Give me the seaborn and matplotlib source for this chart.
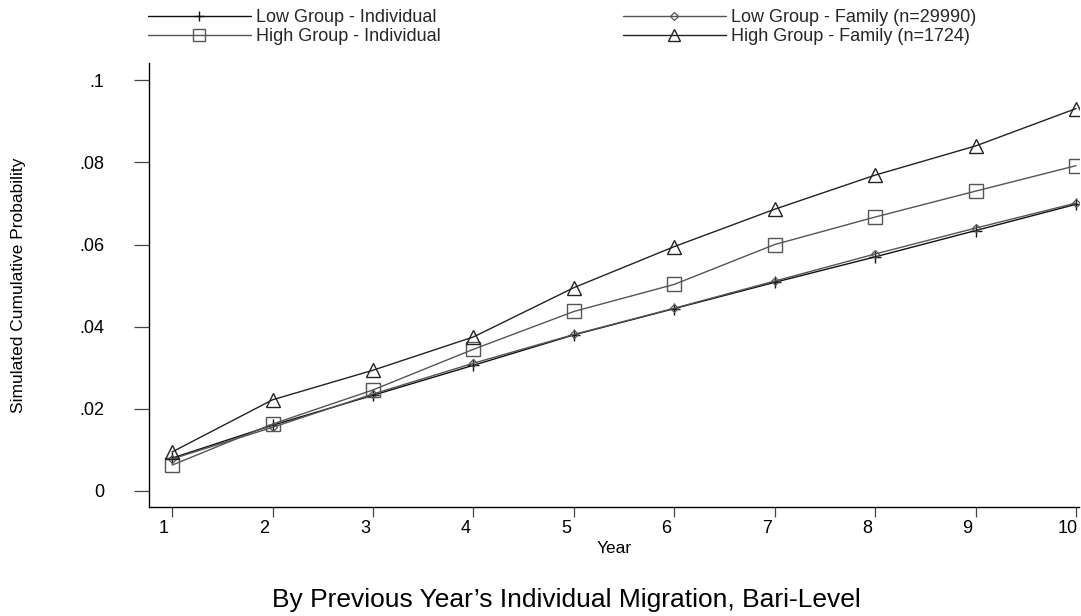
import numpy as np
import pandas as pd
import seaborn as sns
import matplotlib
matplotlib.use("Agg")
import matplotlib.pyplot as plt
import matplotlib.transforms as mtransforms
from matplotlib.ticker import FuncFormatter

years = [1, 2, 3, 4, 5, 6, 7, 8, 9, 10]
low_individual = [0.0080, 0.0160, 0.0233, 0.0306, 0.0380, 0.0444, 0.0508, 0.0570, 0.0634, 0.0698]
low_family = [0.0078, 0.0155, 0.0236, 0.0311, 0.0381, 0.0445, 0.0511, 0.0577, 0.0640, 0.0701]
high_individual = [0.0063, 0.0163, 0.0246, 0.0345, 0.0437, 0.0503, 0.0600, 0.0667, 0.0730, 0.0792]
high_family = [0.0095, 0.0222, 0.0294, 0.0375, 0.0495, 0.0595, 0.0686, 0.0769, 0.0840, 0.0931]
series_names = ["Low Group - Individual", "High Group - Individual",
                "Low Group - Family (n=29990)", "High Group - Family (n=1724)"]
yticks = [0, 0.02, 0.04, 0.06, 0.08, 0.1]

df = pd.DataFrame({
    "Year": years * 4,
    "value": low_individual + high_individual + low_family + high_family,
    "series": [s for s in series_names for _ in years],
})

sns.set_theme(style="white")
plt.rcParams["font.family"] = ["Liberation Sans", "DejaVu Sans"]

W, H = 1081, 616
fig = plt.figure(figsize=(W / 100, H / 100), dpi=100)
ax = fig.add_axes([149 / W, (H - 507) / H, (1079 - 149) / W, (507 - 63) / H])

styles = {
    "Low Group - Individual": dict(color="#111111", marker="+", ms=8, mew=1.0, lw=1.0),
    "High Group - Individual": dict(color="#555555", marker="s", ms=9.5, mew=1.0, lw=1.0),
    "Low Group - Family (n=29990)": dict(color="#555555", marker="D", ms=4.2, mew=0.9, lw=1.0),
    "High Group - Family (n=1724)": dict(color="#222222", marker="^", ms=10, mew=1.0, lw=1.0),
}

handles = {}
for name in series_names:
    st = styles[name]
    sub = df[df["series"] == name]
    sns.lineplot(data=sub, x="Year", y="value", ax=ax, color=st["color"], lw=st["lw"],
                 marker=st["marker"], markersize=st["ms"], markeredgewidth=st["mew"],
                 markerfacecolor="none", markeredgecolor=st["color"], legend=False)
    h, = ax.plot([], [], color=st["color"], lw=st["lw"], marker=st["marker"],
                 markersize=st["ms"] * 0.9, markeredgewidth=st["mew"],
                 markerfacecolor="none", markeredgecolor=st["color"])
    handles[name] = h

ax.set_xlim(0.77, 10.03)
ax.set_ylim(-0.0039, 0.1042)
ax.set_xticks(years)
ax.set_yticks(yticks)

def fmt(v, pos):
    if abs(v) < 1e-12:
        return "0"
    return ("%g" % v).replace("0.", ".", 1)

ax.yaxis.set_major_formatter(FuncFormatter(fmt))
for side in ["top", "right"]:
    ax.spines[side].set_visible(False)
for side in ["left", "bottom"]:
    ax.spines[side].set_color("black")
    ax.spines[side].set_linewidth(1.0)
ax.tick_params(axis="y", which="major", direction="out", length=11, width=0.9,
               color="#444444", labelsize=13, labelcolor="black", left=True, pad=21)
ax.tick_params(axis="x", which="major", direction="out", length=7.2, width=0.9,
               color="#444444", labelsize=13, labelcolor="black", bottom=True, pad=2)
shift = mtransforms.ScaledTranslation(-8 / 100, 0, fig.dpi_scale_trans)
for lab in ax.get_xticklabels():
    lab.set_transform(lab.get_transform() + shift)

ax.set_xlabel("Year", fontsize=12.5, color="black", labelpad=3)
ax.set_ylabel("Simulated Cumulative Probability", fontsize=12.5, color="black")
ax.yaxis.set_label_coords((26 - 149) / (1079 - 149), 0.5)
ax.grid(False)

leg_kw = dict(loc="upper left", frameon=False, fontsize=13, handlelength=5.7,
              handletextpad=0.28, labelspacing=0.12, borderpad=0.0, borderaxespad=0.0)
leg1 = fig.legend(handles=[handles[series_names[0]], handles[series_names[1]]],
                  labels=series_names[:2], bbox_to_anchor=(148 / W, 1 - 9 / H), **leg_kw)
leg2 = fig.legend(handles=[handles[series_names[2]], handles[series_names[3]]],
                  labels=series_names[2:], bbox_to_anchor=(623 / W, 1 - 9 / H), **leg_kw)

fig.text(566 / W, 1 - 607 / H, "By Previous Year\u2019s Individual Migration, Bari-Level",
         ha="center", va="baseline", fontsize=19, color="black")

fig.savefig("out.png", dpi=100, facecolor="white")
